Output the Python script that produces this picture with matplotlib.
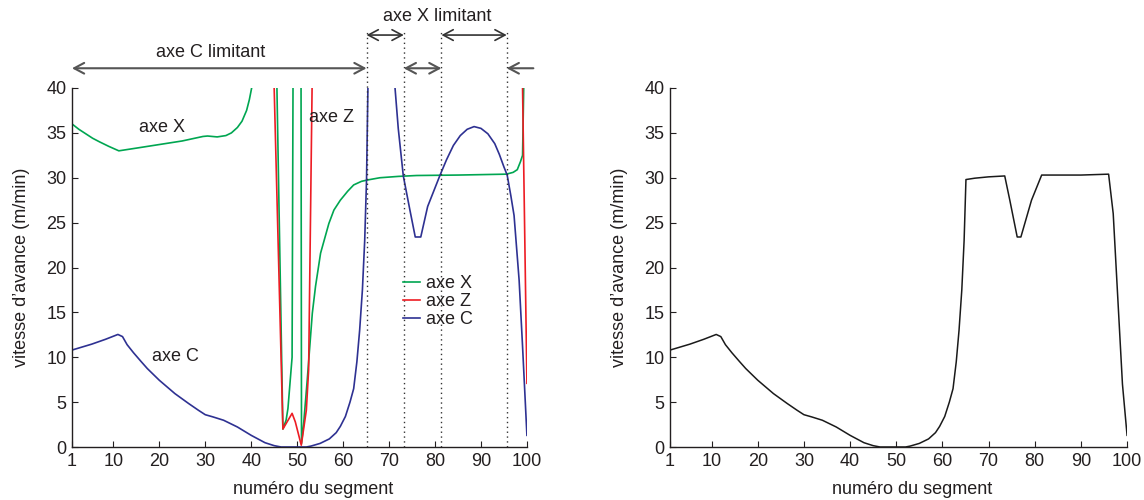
import numpy as np
import matplotlib
matplotlib.use("Agg")
import matplotlib.pyplot as plt
from matplotlib.patches import FancyArrowPatch, ArrowStyle

plt.rcParams['font.family'] = ['Liberation Sans', 'DejaVu Sans']

nan = np.nan

# ---- data ----
# axe X (green)
x_X = [1, 2.5, 4, 5.5, 7, 9, 11.2, 15, 20, 25, 29.5, 30.5, 32.6, 34.5, 35.7, 37, 38, 39, 39.6, 40.1,
       nan,
       45.6, 46.9, 47.6, 48.0, 48.9, 49.1,
       nan,
       50.85, 50.95, 51.4, 52.2, 53.3, 54.0, 55.1, 56.9, 58.0, 59.4, 61.0, 62.3, 64.0, 65.3,
       68, 72, 76, 85, 95.5, 97.0, 97.9, 98.6, 99.05, 99.3]
v_X = [36.0, 35.4, 34.9, 34.4, 34.0, 33.5, 33.0, 33.3, 33.7, 34.1, 34.6, 34.65, 34.55, 34.7, 35.0, 35.6, 36.3, 37.5, 38.7, 40,
       nan,
       40, 2.0, 3.0, 4.3, 10.0, 40,
       nan,
       40, 0.4, 2.5, 7.5, 14.9, 17.9, 21.6, 24.9, 26.4, 27.5, 28.5, 29.2, 29.6, 29.75,
       30.0, 30.15, 30.25, 30.3, 30.4, 30.6, 30.9, 31.8, 32.5, 40]

# axe Z (red)
x_Z = [45.0, 46.9, 48.9, 49.6, 50.9, 52.0, 52.5, 53.25, nan, 99.05, 100]
v_Z = [40, 2.0, 3.75, 2.8, 0.2, 4.1, 8.6, 40, nan, 40, 7.1]

# axe C (blue)
x_C = [1, 5.3, 8.3, 11, 12, 13, 14.4, 16, 17.4, 20, 23.4, 26.4, 28.5, 30, 31.7, 34, 37, 40, 43, 45, 46.5,
       52, 53, 55, 57, 58.5, 59.4, 60.5, 61.5, 62.3, 63, 63.6, 64.2, 64.7, 65.1, 65.4,
       nan,
       71.3, 72.0, 73.1, 74.5, 75.7, 76.9, 78.4, 81.1, 82.5, 84, 85.5, 87, 88.5, 90, 91.5,
       93, 94, 95, 95.7, 96.5, 97.2, 98.3, 99.05, 100]
v_C = [10.8, 11.46, 12.0, 12.54, 12.3, 11.4, 10.5, 9.55, 8.74, 7.44, 5.95, 4.84, 4.1, 3.6, 3.35, 2.98, 2.23, 1.3, 0.48, 0.15, 0,
       0, 0.1, 0.4, 0.9, 1.6, 2.3, 3.4, 5.0, 6.5, 9.5, 13.0, 17.5, 23.0, 29.8, 40,
       nan,
       40, 35.5, 30.2, 26.5, 23.4, 23.4, 26.8, 30.3, 32.0, 33.6, 34.7, 35.4, 35.7, 35.5, 34.9,
       33.8, 32.6, 31.2, 30.3, 28.0, 25.8, 18.6, 11.2, 1.3]

# resulting feed rate (black, right chart)
x_F = [1, 5.3, 8.3, 11, 12, 13, 14.4, 16, 17.4, 20, 23.4, 26.4, 28.5, 30, 31.7, 34, 37, 40, 43, 45, 46.5,
       52, 53, 55, 57, 58.5, 59.4, 60.5, 61.5, 62.3, 63, 63.6, 64.2, 64.7, 65.1,
       67, 70, 73.5, 74.6, 76.2, 77, 79.3, 81.5, 85, 90, 96, 97, 98, 99, 100]
v_F = [10.8, 11.46, 12.0, 12.54, 12.3, 11.4, 10.5, 9.55, 8.74, 7.44, 5.95, 4.84, 4.1, 3.6, 3.35, 2.98, 2.23, 1.3, 0.48, 0.15, 0,
       0, 0.1, 0.4, 0.9, 1.6, 2.3, 3.4, 5.0, 6.5, 9.5, 13.0, 17.5, 23.0, 29.8,
       29.95, 30.1, 30.2, 27.5, 23.4, 23.4, 27.5, 30.3, 30.3, 30.3, 30.4, 26.0, 16.5, 7.0, 1.3]

# limiting-axis boundaries (segment numbers)
bounds = [65.1, 73.2, 81.4, 95.6]

xticks = [1, 10, 20, 30, 40, 50, 60, 70, 80, 90, 100]
yticks = [0, 5, 10, 15, 20, 25, 30, 35, 40]
xlabel = "numéro du segment"
ylabel = "vitesse d’avance (m/min)"

GREEN = "#00a651"
RED = "#ed1c24"
BLUE = "#2e3192"
INK = "#231f20"
FS = 13

fig = plt.figure(figsize=(11.44, 5.0), dpi=100)
axL = fig.add_axes([0.0629, 0.106, 0.3977, 0.718])
axR = fig.add_axes([0.5857, 0.106, 0.3995, 0.718])

for ax in (axL, axR):
    ax.set_xlim(1, 100)
    ax.set_ylim(0, 40)
    ax.set_xticks(xticks)
    ax.set_yticks(yticks)
    for s in ("top", "right"):
        ax.spines[s].set_visible(False)
    for s in ("left", "bottom"):
        ax.spines[s].set_color(INK)
        ax.spines[s].set_linewidth(1.0)
    ax.tick_params(direction="in", length=4, width=0.8, color=INK,
                   labelsize=FS, labelcolor=INK, pad=4)
    ax.set_xlabel(xlabel, fontsize=FS, color=INK, labelpad=8)
    ax.set_ylabel(ylabel, fontsize=FS, color=INK, labelpad=12)
    ax.xaxis.label.set_x(0.53)

# ---- left chart ----
axL.plot(x_X, v_X, color=GREEN, lw=1.2, label="axe X")
axL.plot(x_Z, v_Z, color=RED, lw=1.2, label="axe Z")
axL.plot(x_C, v_C, color=BLUE, lw=1.2, label="axe C")

for b in bounds:
    axL.plot([b, b], [0, 46.2], color="#333333", lw=1.0, ls=(0, (1, 2.5)),
             clip_on=False)

axL.text(20.6, 35.6, "axe X", fontsize=FS, color=INK, ha="center", va="center")
axL.text(57.4, 36.7, "axe Z", fontsize=FS, color=INK, ha="center", va="center")
axL.text(23.6, 10.1, "axe C", fontsize=FS, color=INK, ha="center", va="center")

axL.legend(loc="upper left", bbox_to_anchor=(0.728, 0.478), frameon=False,
           fontsize=FS, handlelength=0.95, handletextpad=0.3, labelspacing=0.05,
           borderpad=0, borderaxespad=0, labelcolor=INK)

def darrow(ax, x0, x1, y, style, color, lw):
    a = FancyArrowPatch((x0, y), (x1, y), arrowstyle=style, mutation_scale=12,
                        color=color, lw=lw, shrinkA=0, shrinkB=0, clip_on=False)
    ax.add_patch(a)

st2 = ArrowStyle("<->", head_length=0.6, head_width=0.32)
st1 = ArrowStyle("<-", head_length=0.6, head_width=0.32)
darrow(axL, 1, bounds[0], 42.2, st2, "#555555", 1.5)
darrow(axL, bounds[1], bounds[2], 42.2, st2, "#555555", 1.5)
darrow(axL, bounds[3], 101.4, 42.2, st1, "#555555", 1.5)
darrow(axL, bounds[0], bounds[1], 45.9, st2, "#333333", 1.2)
darrow(axL, bounds[2], bounds[3], 45.9, st2, "#333333", 1.2)

axL.text(31.2, 44.0, "axe C limitant", fontsize=FS, color=INK, ha="center",
         va="center", clip_on=False)
axL.text(80.4, 48.0, "axe X limitant", fontsize=FS, color=INK, ha="center",
         va="center", clip_on=False)

# ---- right chart ----
axR.plot(x_F, v_F, color="#1a1a1a", lw=1.1)

fig.savefig("out.png", dpi=100)
